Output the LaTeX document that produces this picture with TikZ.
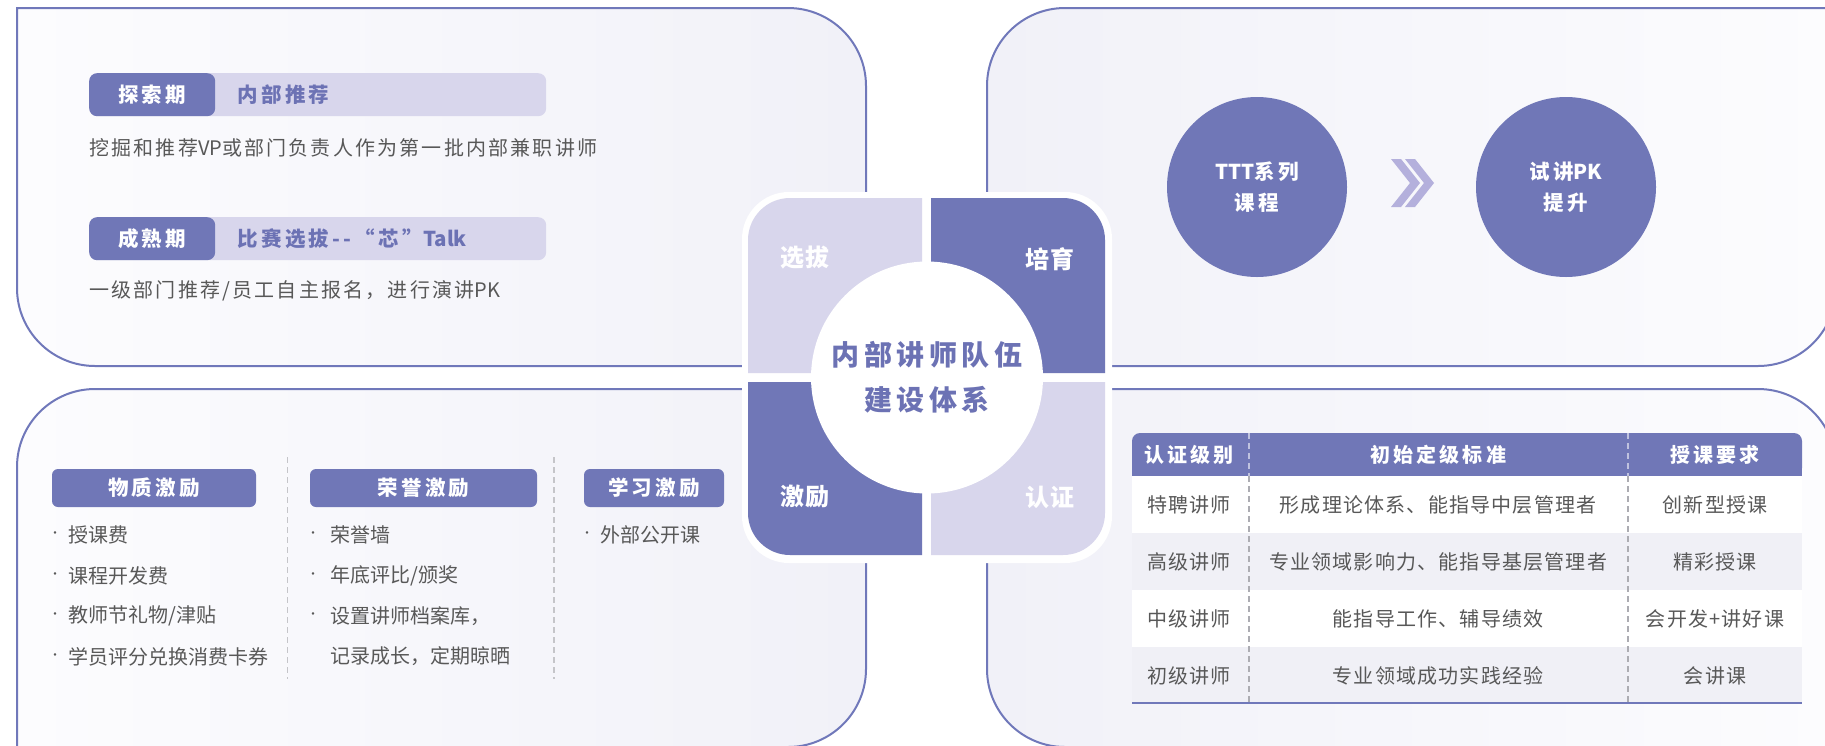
\documentclass[tikz,border=0pt]{standalone}
\usepackage{fontspec}
\setmainfont{Noto Sans CJK SC}
\newfontfamily\widecjk[LetterSpace=16]{Noto Sans CJK SC}
\newfontfamily\desccjk[LetterSpace=11]{Noto Sans CJK SC}
\newfontfamily\midcjk[LetterSpace=6]{Noto Sans CJK SC}
\newfontfamily\plaincjk{Noto Sans CJK SC}
\usepackage{tikz}
\usetikzlibrary{positioning}
\definecolor{lavdark}{RGB}{112,119,183}
\definecolor{lavlight}{RGB}{216,214,236}
\definecolor{lavline}{RGB}{112,120,186}
\definecolor{lavtext}{RGB}{108,114,180}
\definecolor{chev}{RGB}{180,176,220}
\definecolor{panelnear}{RGB}{241,241,248}
\definecolor{panelfar}{RGB}{252,252,254}
\definecolor{rowalt}{RGB}{240,240,246}
\definecolor{bodytext}{RGB}{88,88,88}
\definecolor{sepgray}{RGB}{172,172,178}
\newcommand{\lat}[1]{{\plaincjk #1}}

\begin{document}
\begin{tikzpicture}[x=1pt, y=-1pt,
  panel/.style={draw=lavline, line width=2pt},
  quadlabel/.style={text=white, inner sep=0pt, font=\midcjk\bfseries\fontsize{24}{28}\selectfont},
  hub/.style={circle, fill=white, minimum size=232pt, inner sep=0pt, align=center,
              text=lavtext, font=\widecjk\bfseries\fontsize{28}{45}\selectfont},
  phasebg/.style={fill=lavlight, rounded corners=8pt, minimum width=457pt, minimum height=43pt,
                  inner sep=0pt, anchor=north west},
  phase/.style={fill=lavdark, rounded corners=8pt, minimum width=126pt, minimum height=43pt,
                inner sep=0pt, anchor=north west, text=white, font=\widecjk\bfseries\fontsize{20.5}{24}\selectfont},
  phasetitle/.style={text=lavtext, inner sep=0pt, font=\widecjk\bfseries\fontsize{20.5}{24}\selectfont},
  desc/.style={text=bodytext, inner sep=0pt, anchor=west, font=\desccjk\fontsize{20}{24}\selectfont},
  bigdot/.style={circle, fill=lavdark, minimum size=180pt, inner sep=0pt, align=center,
                 text=white, font=\widecjk\bfseries\fontsize{20.5}{31}\selectfont},
  award/.style={fill=lavdark, rounded corners=6pt, minimum height=38pt, inner sep=0pt,
                text=white, font=\widecjk\bfseries\fontsize{20.5}{24}\selectfont},
  item/.style={text=bodytext, inner sep=0pt, anchor=west, font=\fontsize{20}{24}\selectfont},
  bullet/.style={text=bodytext, inner sep=0pt, font=\fontsize{12}{14}\selectfont},
  colsep/.style={draw=sepgray!70, line width=1.2pt, dash pattern=on 6pt off 4pt},
  thead/.style={text=white, inner sep=0pt, font=\widecjk\bfseries\fontsize{20}{24}\selectfont},
  tcell/.style={text=bodytext, inner sep=0pt, font=\midcjk\fontsize{20}{24}\selectfont},
  tsep/.style={draw=sepgray, line width=1.2pt, dash pattern=on 6pt off 4pt},
]
\useasboundingbox (0,0) rectangle (1825,745);

\path[panel, left color=panelfar, right color=panelnear]
  (17,8) -- (788,8) arc(-90:0:78) -- (866,366) -- (95,366) arc(90:180:78) -- cycle;
\path[panel, left color=panelnear, right color=panelfar]
  (987,366) -- (987,86) arc(180:270:78) -- (1836,8) -- (1836,288) arc(0:90:78) -- cycle;
\path[panel, left color=panelfar, right color=panelnear]
  (866,389) -- (95,389) arc(-90:-180:78) -- (17,747) -- (788,747) arc(90:0:78) -- cycle;
\path[panel, left color=panelnear, right color=panelfar]
  (987,389) -- (1758,389) arc(-90:0:78) -- (1836,747) -- (1065,747) arc(90:180:78) -- cycle;

\node[phasebg] (explorebg) at (89,73) {};
\node[phase] (explore) at (89,73) {探索期};
\node[phasetitle, right=22pt of explore] (exploretitle) {内部推荐};
\node[desc] (exploredesc) at (89,148) {挖掘和推荐\lat{VP}或部门负责人作为第一批内部兼职讲师};
\node[phasebg] (maturebg) at (89,217) {};
\node[phase] (mature) at (89,217) {成熟期};
\node[phasetitle, right=22pt of mature] (maturetitle) {比赛选拔-{}-“芯”\lat{Talk}};
\node[desc] (maturedesc) at (89,291) {一级部门推荐/员工自主报名，进行演讲\lat{PK}};

\node[bigdot] (ttt) at (1257,187) {\lat{TTT}系列\\课程};
\node[bigdot] (trial) at (1566,187) {试讲\lat{PK}\\提升};
\foreach \cx in {1391,1405}
  \fill[chev] (\cx,159) -- (\cx+10,159) -- (\cx+29,183) -- (\cx+10,207) -- (\cx,207) -- (\cx+19,183) -- cycle;

\node[award, minimum width=204pt] (matter) at (154,488) {物质激励};
\node[award, minimum width=227pt] (honor) at (423.5,488) {荣誉激励};
\node[award, minimum width=140pt] (study) at (654,488) {学习激励};
\draw[colsep] (287.5,457) -- (287.5,679);
\draw[colsep] (554,457) -- (554,679);
\foreach \t [count=\i, evaluate=\i as \yy using 535+40.5*(\i-1)] in {授课费,课程开发费,教师节礼物/津贴,学员评分兑换消费卡券} {
  \node[bullet] (matterdot\i) at (55,\yy) {·};
  \node[item] (matteritem\i) at (68,\yy) {\t};
}
\foreach \t [count=\i, evaluate=\i as \yy using 535+40.5*(\i-1)] in {荣誉墙,年底评比/颁奖,设置讲师档案库，} {
  \node[bullet] (honordot\i) at (313,\yy) {·};
  \node[item] (honoritem\i) at (330,\yy) {\t};
}
\node[item] (honoritem4) at (330,656.5) {记录成长，定期晾晒};
\node[bullet] (studydot1) at (587,535) {·};
\node[item] (studyitem1) at (600,535) {外部公开课};

\fill[lavdark, rounded corners=8pt] (1132,433) rectangle (1802,476);
\fill[lavdark] (1132,460) rectangle (1802,476);
\fill[white] (1132,476) rectangle (1802,703);
\node[thead] (hlevel) at (1189,455) {认证级别};
\node[thead] (hstd) at (1438,455) {初始定级标准};
\node[thead] (hreq) at (1715,455) {授课要求};
\foreach \lv/\st/\rq [count=\i, evaluate=\i as \yy using 504.5+57*(\i-1)] in
  {特聘讲师/形成理论体系、能指导中层管理者/创新型授课,
   高级讲师/专业领域影响力、能指导基层管理者/精彩授课,
   中级讲师/能指导工作、辅导绩效/会开发+讲好课,
   初级讲师/专业领域成功实践经验/会讲课} {
  \ifodd\i\relax\else\fill[rowalt] (1132,\yy-28.5) rectangle (1802,\yy+28.5);\fi
  \node[tcell] (lv\i) at (1189,\yy) {\lv};
  \node[tcell] (st\i) at (1438,\yy) {\st};
  \node[tcell] (rq\i) at (1715,\yy) {\rq};
}
\draw[tsep, draw=white!55!lavdark] (1249,433) -- (1249,476);
\draw[tsep, draw=white!55!lavdark] (1628,433) -- (1628,476);
\draw[tsep] (1249,476) -- (1249,703);
\draw[tsep] (1628,476) -- (1628,703);
\draw[lavline, line width=2pt] (1132,703) -- (1802,703);

\fill[white, rounded corners=47pt] (742,192) rectangle (1112,563);
\fill[lavlight] (922,198) -- (790,198) arc(-90:-180:42) -- (748,373) -- (922,373) -- cycle;
\fill[lavdark] (931,198) -- (1063,198) arc(-90:0:42) -- (1105,373) -- (931,373) -- cycle;
\fill[lavdark] (748,382) -- (748,513) arc(180:90:42) -- (922,555) -- (922,382) -- cycle;
\fill[lavlight] (1105,382) -- (1105,513) arc(0:90:42) -- (931,555) -- (931,382) -- cycle;
\node[hub] (hub) at (927,377.5) {内部讲师队伍\\建设体系};
\node[quadlabel] (select) at (805,258) {选拔};
\node[quadlabel] (train) at (1050,259) {培育};
\node[quadlabel] (reward) at (805,497) {激励};
\node[quadlabel] (certify) at (1050,497) {认证};
\end{tikzpicture}
\end{document}
